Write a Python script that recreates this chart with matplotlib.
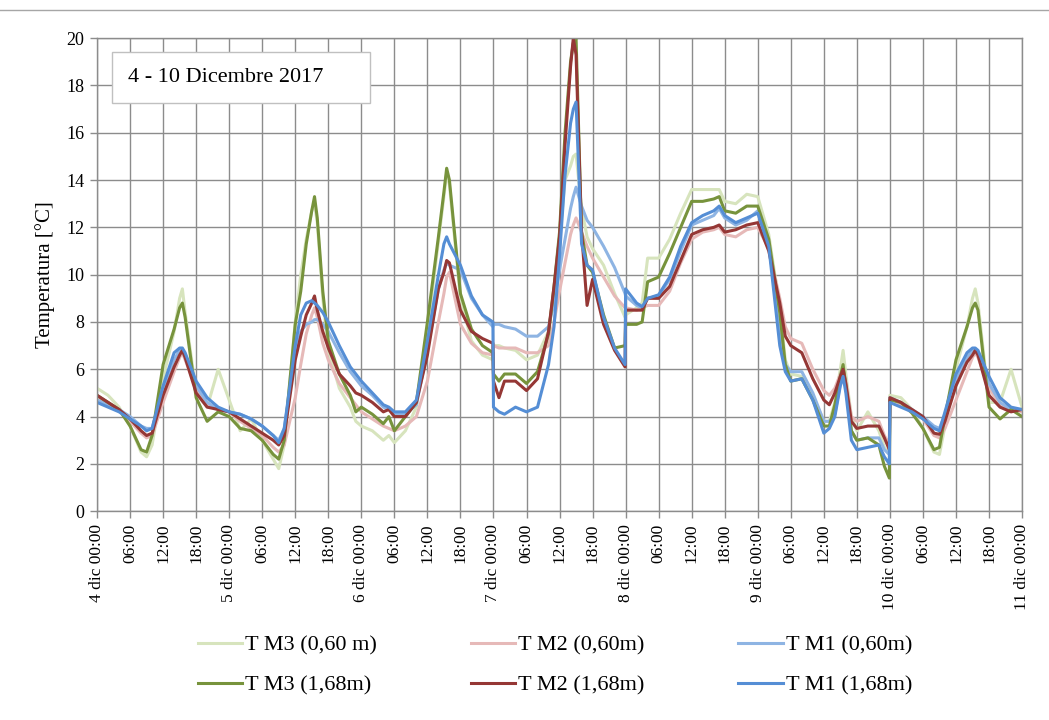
import matplotlib
matplotlib.use("Agg")
import matplotlib.pyplot as plt
from matplotlib.patches import Rectangle
from matplotlib.lines import Line2D

plt.rcParams["font.family"] = ["Liberation Serif", "DejaVu Serif"]

# Hours elapsed since 4 dic 2017 00:00
hours = [
    0, 2, 4, 6, 8, 9, 10, 12, 14, 15, 15.5, 16, 18, 20, 22, 24,
    26, 28, 30, 32, 33, 34, 36, 37, 38, 39, 39.5, 40, 41, 42, 44, 46, 47, 48,
    50, 52, 53, 54, 56, 58, 60, 62, 63, 63.5, 64, 66, 68, 70, 71.9,
    72, 73, 74, 76, 78, 80, 82, 83, 84, 85, 86, 86.5, 87, 88, 89, 90, 92, 94, 95.9,
    96, 98, 99, 100, 102, 104, 106, 108, 110, 112, 113, 114, 116, 118,
    120, 122, 124, 125, 126, 128, 130, 132, 133, 134, 135, 135.5, 136, 137, 138, 140, 142, 143, 143.9,
    144, 146, 148, 150, 152, 153, 154, 156, 158, 159, 159.5, 160, 162, 164, 166, 168,
]

t_m3_060 = [
    5.2, 4.9, 4.4, 3.6, 2.5, 2.3, 2.8, 5.6, 7.6, 9.0, 9.4, 8.4, 5.0, 4.4, 6.0, 4.7,
    3.4, 3.9, 3.0, 2.2, 1.8, 2.8, 8.0, 10.0, 11.5, 12.7, 13.0, 12.2, 9.0, 6.8, 5.2, 4.4, 3.8, 3.6,
    3.4, 3.0, 3.2, 2.9, 3.4, 4.4, 7.6, 11.4, 13.3, 14.3, 13.8, 9.0, 7.2, 6.6, 6.4,
    7.0, 7.0, 6.9, 6.8, 6.4, 6.6, 7.6, 9.3, 11.5, 14.0, 14.6, 15.0, 15.1, 12.8, 11.6, 11.1, 10.4, 9.2, 8.2,
    8.3, 8.6, 8.8, 10.7, 10.7, 11.5, 12.6, 13.6, 13.6, 13.6, 13.6, 13.1, 13.0, 13.4,
    13.3, 11.7, 8.6, 6.4, 5.8, 5.7, 4.9, 3.8, 3.8, 4.6, 6.0, 6.8, 5.8, 4.0, 3.4, 4.2, 3.4, 2.7, 2.4,
    4.9, 4.8, 4.3, 3.5, 2.5, 2.4, 3.6, 6.0, 7.8, 9.0, 9.4, 8.8, 4.6, 4.6, 6.0, 4.4,
]

t_m3_168 = [
    4.9, 4.6, 4.3, 3.6, 2.6, 2.5, 3.2, 6.2, 7.7, 8.6, 8.8, 8.2, 4.8, 3.8, 4.2, 4.0,
    3.5, 3.4, 3.0, 2.4, 2.2, 3.0, 7.9, 9.3, 11.3, 12.7, 13.3, 12.4, 9.3, 7.2, 5.8, 4.9, 4.2, 4.4,
    4.1, 3.7, 4.0, 3.4, 4.0, 4.6, 8.0, 11.6, 13.5, 14.5, 14.0, 9.2, 7.7, 7.0, 6.7,
    5.8, 5.5, 5.8, 5.8, 5.4, 5.9, 7.5, 9.5, 11.8, 16.0, 19.0, 19.8, 20.0, 11.8, 10.4, 10.1, 8.3, 6.9, 7.0,
    7.9, 7.9, 8.0, 9.7, 9.9, 10.9, 12.0, 13.1, 13.1, 13.2, 13.3, 12.7, 12.6, 12.9,
    12.9, 11.5, 8.4, 6.2, 5.5, 5.6, 4.7, 3.6, 3.6, 4.5, 5.7, 6.2, 5.3, 3.4, 3.0, 3.1, 2.8, 1.9, 1.4,
    4.7, 4.6, 4.15, 3.5, 2.6, 2.7, 4.0, 6.4, 7.8, 8.6, 8.8, 8.5, 4.4, 3.9, 4.3, 4.0,
]

t_m2_060 = [
    4.8, 4.5, 4.3, 3.8, 3.3, 3.1, 3.2, 4.6, 5.9, 6.5, 6.7, 6.4, 5.2, 4.5, 4.3, 4.2,
    3.8, 3.5, 3.2, 2.7, 2.5, 2.8, 4.8, 6.2, 7.5, 8.3, 8.6, 8.2, 7.1, 6.4, 5.4, 4.8, 4.5, 4.2,
    3.9, 3.6, 3.5, 3.4, 3.6, 4.0, 5.5, 8.0, 9.2, 9.9, 10.1, 7.9, 7.1, 6.7, 6.6,
    7.0, 6.9, 6.9, 6.9, 6.7, 6.7, 7.0, 8.0, 9.3, 10.5, 11.7, 12.1, 12.4, 11.8, 11.2, 10.7, 9.9, 9.1, 8.6,
    8.6, 8.5, 8.6, 8.7, 8.7, 9.3, 10.5, 11.5, 11.8, 11.9, 12.0, 11.7, 11.6, 11.9,
    12.0, 11.1, 9.0, 7.8, 7.3, 7.1, 6.0, 5.1, 4.9, 5.2, 5.8, 6.0, 5.5, 4.0, 3.8, 4.0, 3.8, 3.2, 2.8,
    4.8, 4.5, 4.3, 3.9, 3.2, 3.1, 3.5, 4.7, 5.9, 6.5, 6.7, 6.5, 5.2, 4.5, 4.3, 4.2,
]

t_m2_168 = [
    4.9, 4.6, 4.3, 3.9, 3.4, 3.2, 3.3, 4.9, 6.1, 6.6, 6.8, 6.5, 5.0, 4.4, 4.3, 4.2,
    3.9, 3.6, 3.3, 3.0, 2.8, 3.2, 6.4, 7.4, 8.3, 8.8, 9.1, 8.5, 7.6, 6.9, 5.8, 5.3, 5.0, 4.9,
    4.6, 4.2, 4.3, 4.0, 4.0, 4.6, 6.6, 9.4, 10.1, 10.6, 10.5, 8.5, 7.6, 7.3, 7.1,
    5.5, 4.8, 5.5, 5.5, 5.1, 5.6, 7.6, 9.5, 11.6, 15.5, 18.8, 20.0, 19.3, 11.8, 8.7, 9.8, 7.9, 6.8, 6.1,
    8.5, 8.5, 8.5, 9.0, 9.0, 9.5, 10.6, 11.7, 11.9, 12.0, 12.1, 11.8, 11.9, 12.1,
    12.2, 11.0, 8.8, 7.4, 7.0, 6.7, 5.6, 4.7, 4.5, 5.0, 5.7, 6.0, 5.4, 3.8, 3.5, 3.6, 3.6, 3.1, 2.6,
    4.8, 4.6, 4.3, 4.0, 3.3, 3.25, 3.8, 5.3, 6.3, 6.6, 6.8, 6.6, 4.9, 4.4, 4.2, 4.3,
]

t_m1_060 = [
    4.7, 4.5, 4.3, 4.0, 3.6, 3.5, 3.5, 5.2, 6.4, 6.8, 6.8, 6.5, 5.3, 4.6, 4.3, 4.2,
    4.1, 3.9, 3.6, 3.2, 3.0, 3.5, 6.6, 7.6, 7.9, 8.0, 8.1, 8.1, 7.9, 7.6, 6.7, 5.9, 5.6, 5.3,
    4.9, 4.4, 4.3, 4.1, 4.1, 4.5, 6.8, 9.4, 10.2, 10.5, 10.4, 10.2, 9.0, 8.3, 7.8,
    7.9, 7.9, 7.8, 7.7, 7.4, 7.4, 7.8, 8.8, 10.2, 11.5, 12.8, 13.3, 13.7, 12.9, 12.3, 12.0, 11.2, 10.3, 9.2,
    9.1, 8.7, 8.6, 9.0, 9.1, 9.8, 11.0, 12.1, 12.3, 12.5, 12.8, 12.4, 12.1, 12.3,
    12.7, 11.4, 7.4, 6.2, 5.9, 5.9, 5.0, 3.8, 3.8, 4.1, 5.4, 5.9, 5.2, 3.4, 3.0, 3.1, 3.1, 2.6, 2.4,
    4.8, 4.6, 4.3, 4.0, 3.6, 3.5, 4.1, 5.6, 6.5, 6.8, 6.8, 6.7, 5.4, 4.6, 4.3, 4.3,
]

t_m1_168 = [
    4.6, 4.4, 4.2, 3.9, 3.6, 3.4, 3.5, 5.3, 6.7, 6.9, 6.9, 6.7, 5.5, 4.8, 4.4, 4.2,
    4.1, 3.9, 3.6, 3.2, 2.9, 3.5, 7.0, 8.3, 8.8, 8.9, 8.8, 8.7, 8.4, 8.0, 7.0, 6.1, 5.8, 5.5,
    5.0, 4.5, 4.4, 4.2, 4.2, 4.7, 7.2, 10.0, 11.3, 11.6, 11.3, 10.4, 9.1, 8.3, 8.0,
    4.4, 4.2, 4.1, 4.4, 4.2, 4.4, 6.2, 7.8, 10.8, 14.2, 16.4, 17.0, 17.3, 11.3, 10.4, 10.2, 8.2, 6.9, 6.2,
    9.4, 8.8, 8.65, 9.0, 9.15, 9.9, 11.2, 12.2, 12.5, 12.7, 12.9, 12.5, 12.2, 12.4,
    12.6, 11.2, 7.0, 5.9, 5.5, 5.6, 4.7, 3.3, 3.5, 4.0, 5.3, 5.7, 5.0, 3.0, 2.6, 2.7, 2.8, 2.3, 2.0,
    4.6, 4.4, 4.2, 3.9, 3.5, 3.4, 4.2, 5.8, 6.7, 6.9, 6.9, 6.8, 5.7, 4.8, 4.4, 4.3,
]

series_labels = ["T M3 (0,60 m)", "T M2 (0,60m)", "T M1 (0,60m)",
                 "T M3 (1,68m)", "T M2 (1,68m)", "T M1 (1,68m)"]
series_values = [t_m3_060, t_m2_060, t_m1_060, t_m3_168, t_m2_168, t_m1_168]
series_colors = ["#d7e4bd", "#e6b9b8", "#8eb4e3", "#77933c", "#953735", "#558ed5"]

tick_hours = list(range(0, 169, 6))
tick_labels = [
    "4 dic 00:00", "06:00", "12:00", "18:00",
    "5 dic 00:00", "06:00", "12:00", "18:00",
    "6 dic 00:00", "06:00", "12:00", "18:00",
    "7 dic 00:00", "06:00", "12:00", "18:00",
    "8 dic 00:00", "06:00", "12:00", "18:00",
    "9 dic 00:00", "06:00", "12:00", "18:00",
    "10 dic 00:00", "06:00", "12:00", "18:00",
    "11 dic 00:00",
]
y_ticks = list(range(0, 21, 2))

grid_col = "#8c8c8c"

fig = plt.figure(figsize=(10.49, 7.2), dpi=100)
ax = fig.add_axes([0.0925, 0.29, 0.8818, 0.657])

handles = []
for vals, lab, col in zip(series_values, series_labels, series_colors):
    (ln,) = ax.plot(hours, vals, color=col, lw=2.2, label=lab, solid_joinstyle="round")
    handles.append(ln)

ax.set_xlim(0, 168)
ax.set_ylim(0, 20)
ax.set_xticks(tick_hours)
ax.set_xticklabels(tick_labels, rotation=90, fontsize=12.5)
ax.set_yticks(y_ticks)
ax.set_yticklabels([str(v) for v in y_ticks], fontsize=13)
ax.grid(True, color=grid_col, lw=1.0)
ax.set_axisbelow(True)
for sp in ax.spines.values():
    sp.set_color(grid_col)
    sp.set_linewidth(1.0)
ax.tick_params(direction="out", length=5, color=grid_col, width=1.0, pad=4)
ax.set_ylabel("Temperatura [°C]", fontsize=15, labelpad=8)

# title box in the upper-left corner
ax.add_patch(Rectangle((0.0162, 0.863), 0.279, 0.107, transform=ax.transAxes,
                       facecolor="white", edgecolor="#c0c0c0", lw=1.0, zorder=5))
ax.text(0.0335, 0.9165, "4 - 10 Dicembre 2017", transform=ax.transAxes,
        fontsize=16, va="center", ha="left", zorder=6)

# legend: two rows of three entries
order = [0, 3, 1, 4, 2, 5]
fig.legend([handles[i] for i in order], [series_labels[i] for i in order],
           loc="center", bbox_to_anchor=(0.529, 0.076), ncol=3, frameon=False,
           fontsize=16, handlelength=2.0, handletextpad=0.15,
           columnspacing=4.2, labelspacing=0.9)

fig.add_artist(Line2D([0, 1], [0.986, 0.986], transform=fig.transFigure,
                      color="#a6a6a6", lw=1.0))

fig.savefig("out.png", dpi=100, facecolor="white")
